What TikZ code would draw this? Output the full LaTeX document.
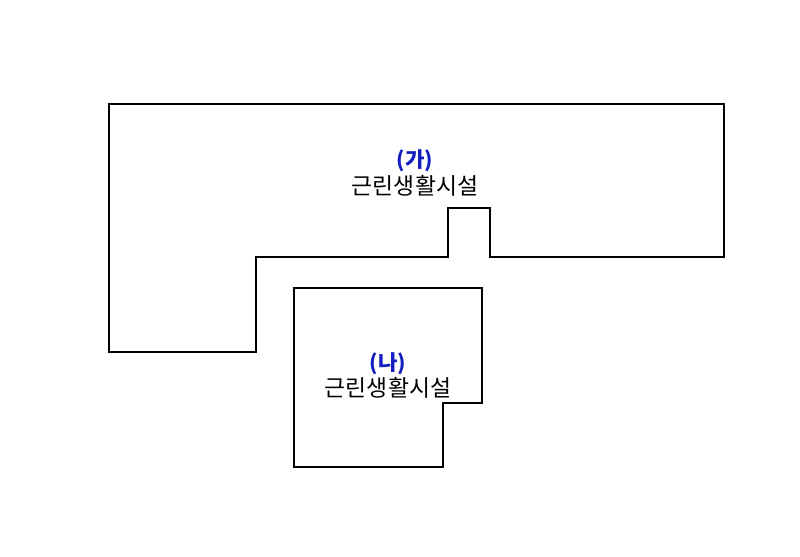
\documentclass[tikz,border=0pt]{standalone}
\usepackage{fontspec}
\setmainfont{Noto Sans CJK KR}
\definecolor{labelblue}{RGB}{20,30,190}
\begin{document}
\begin{tikzpicture}[x=0.02cm,y=-0.02cm]
\tikzset{plot/.style={draw=black,line width=0.8pt},
  tag/.style={font=\fontsize{12}{14}\selectfont\bfseries,text=labelblue,inner sep=0pt},
  use/.style={font=\fontsize{13}{15}\selectfont,inner sep=0pt}}
\useasboundingbox (0,0) rectangle (800,556);

% (가)
\draw[plot] (109,104) -- (724,104) -- (724,257) -- (490,257) -- (490,208) -- (448,208)
  -- (448,257) -- (256,257) -- (256,352) -- (109,352) -- cycle;
\node[tag] (gaTag) at (415,161) {(가)};
\node[use] (gaUse) at (415,186) {근린생활시설};

% (나)
\draw[plot] (294,288) -- (482,288) -- (482,403) -- (443,403) -- (443,467) -- (294,467) -- cycle;
\node[tag] (naTag) at (388,364) {(나)};
\node[use] (naUse) at (388,388) {근린생활시설};
\end{tikzpicture}
\end{document}
